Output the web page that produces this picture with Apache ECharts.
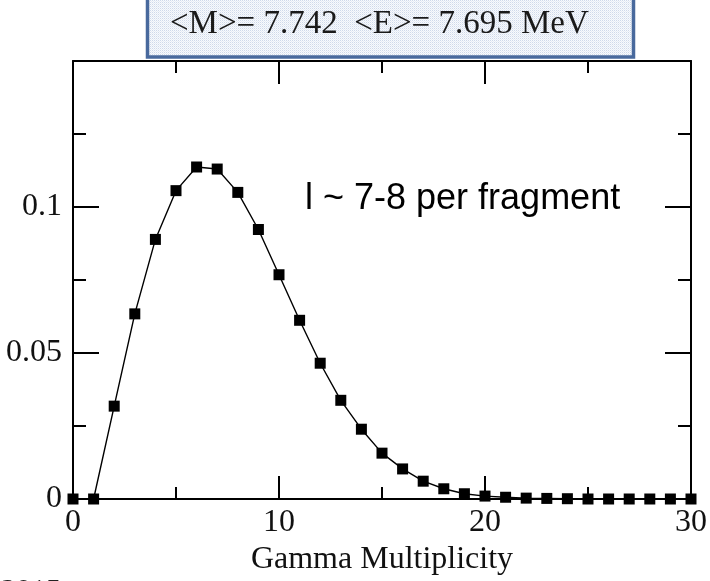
<!DOCTYPE html>
<html>
<head>
<meta charset="utf-8">
<script src="https://cdn.jsdelivr.net/npm/echarts@6/dist/echarts.min.js"></script>
<style>
  html, body { margin: 0; padding: 0; background: #ffffff; }
  #chart { width: 710px; height: 581px; }
</style>
</head>
<body>
<div id="chart"></div>
<script>
// Gamma multiplicity distribution (probability per multiplicity value)
const multiplicity = [0, 1, 2, 3, 4, 5, 6, 7, 8, 9, 10, 11, 12, 13, 14, 15,
  16, 17, 18, 19, 20, 21, 22, 23, 24, 25, 26, 27, 28, 29, 30];
const probability = [0, 0, 0.0318, 0.0634, 0.0889, 0.1056, 0.1137, 0.1130,
  0.1050, 0.0923, 0.0768, 0.0612, 0.0465, 0.0338, 0.0239, 0.0157, 0.0103,
  0.0061, 0.0035, 0.0018, 0.0010, 0.0006, 0.0003, 0.0002, 0.0001, 0, 0, 0,
  0, 0, 0];

// Axis tick labels
const xTickValues = [0, 10, 20, 30];
const xTickLabels = ['0', '10', '20', '30'];
const yTickValues = [0, 0.05, 0.1];
const yTickLabels = ['0', '0.05', '0.1'];

const summaryText = '<M>= 7.742  <E>= 7.695 MeV';
const noteText = 'l ~ 7-8 per fragment';
const xTitle = 'Gamma Multiplicity';
const footText = '2015';

function labelFor(values, labels, v) {
  for (let i = 0; i < values.length; i++) {
    if (Math.abs(values[i] - v) < 1e-9) return labels[i];
  }
  return '';
}

// fine dotted fill for the summary box
const pat = document.createElement('canvas');
pat.width = 2; pat.height = 2;
const pctx = pat.getContext('2d');
pctx.fillStyle = '#f8fafd';
pctx.fillRect(0, 0, 2, 2);
pctx.fillStyle = '#cfd9ea';
pctx.fillRect(0, 0, 1, 1);
pctx.fillStyle = '#e6ecf5';
pctx.fillRect(1, 1, 1, 1);

const serif = '"Liberation Serif", "Times New Roman", serif';
const sans = '"Liberation Sans", Arial, sans-serif';
const axisColor = '#000000';

const chart = echarts.init(document.getElementById('chart'), null, { renderer: 'canvas' });

const baseX = {
  type: 'value', min: 0, max: 30, interval: 10,
  axisLine: { show: true, onZero: false, lineStyle: { color: axisColor, width: 2 } },
  axisTick: { show: true, inside: true, length: 23, lineStyle: { color: axisColor, width: 2 } },
  minorTick: { show: true, splitNumber: 2, length: 12, lineStyle: { color: axisColor, width: 2 } },
  splitLine: { show: false },
  minorSplitLine: { show: false }
};
const baseY = {
  type: 'value', min: 0, max: 0.15, interval: 0.05,
  axisLine: { show: true, onZero: false, lineStyle: { color: axisColor, width: 2 } },
  axisTick: { show: true, inside: true, length: 26, lineStyle: { color: axisColor, width: 2 } },
  minorTick: { show: true, splitNumber: 2, length: 13, lineStyle: { color: axisColor, width: 2 } },
  splitLine: { show: false },
  minorSplitLine: { show: false }
};

chart.setOption({
  animation: false,
  backgroundColor: '#ffffff',
  grid: { left: 73, right: 19, top: 61, bottom: 78, containLabel: false },
  xAxis: [
    Object.assign({}, baseX, {
      position: 'bottom',
      name: xTitle, nameLocation: 'middle', nameGap: 45,
      nameTextStyle: { fontFamily: serif, fontSize: 32, color: '#111111' },
      axisLabel: {
        show: true, margin: 8, fontFamily: serif, fontSize: 32, color: '#111111',
        formatter: v => labelFor(xTickValues, xTickLabels, v)
      }
    }),
    Object.assign({}, baseX, { position: 'top', axisLabel: { show: false } })
  ],
  yAxis: [
    Object.assign({}, baseY, {
      position: 'left',
      axisLabel: {
        show: true, margin: 11, fontFamily: serif, fontSize: 32, color: '#111111',
        formatter: v => labelFor(yTickValues, yTickLabels, v)
      }
    }),
    Object.assign({}, baseY, { position: 'right', axisLabel: { show: false } })
  ],
  series: [{
    type: 'line',
    data: multiplicity.map((m, i) => [m, probability[i]]),
    symbol: 'rect',
    symbolSize: 11,
    showSymbol: true,
    clip: false,
    lineStyle: { color: '#000000', width: 1.4 },
    itemStyle: { color: '#000000' },
    z: 5
  }],
  graphic: [
    {
      type: 'rect',
      shape: { x: 147.5, y: -6, width: 486, height: 63 },
      style: { fill: { image: pat, repeat: 'repeat' }, stroke: '#48699d', lineWidth: 3.5 },
      z: 10
    },
    {
      type: 'text',
      x: 170, y: 24.6,
      style: {
        text: summaryText, font: '33px ' + serif, fill: '#1a1a1a',
        align: 'left', verticalAlign: 'middle'
      },
      z: 11
    },
    {
      type: 'text',
      x: 305, y: 199,
      style: {
        text: noteText, font: '36px ' + sans, fill: '#000000',
        align: 'left', verticalAlign: 'middle'
      },
      z: 11
    },
    {
      type: 'text',
      x: 1, y: 576,
      style: {
        text: footText, font: '30px ' + serif, fill: '#222222',
        align: 'left', verticalAlign: 'top'
      },
      z: 11
    }
  ]
});
</script>
</body>
</html>
